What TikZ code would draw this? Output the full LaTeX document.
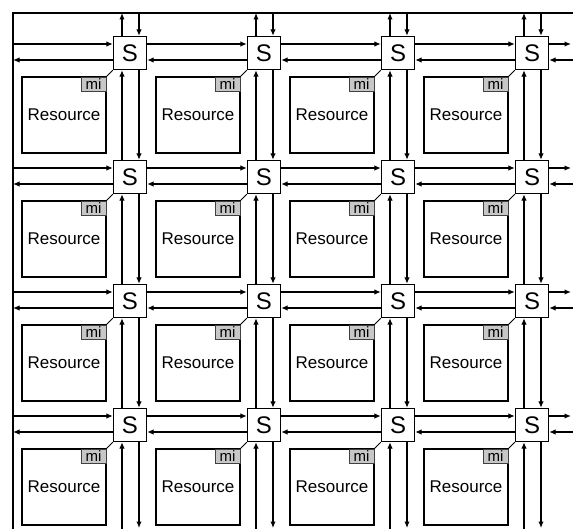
\documentclass[tikz,border=0pt]{standalone}
\usepackage{fontspec}
\setmainfont{Liberation Sans}
\usetikzlibrary{arrows.meta}
\begin{document}
\begin{tikzpicture}[x=1pt,y=-1pt,
  sw/.style={draw,line width=1.4pt,minimum size=33pt,inner sep=0pt,font=\fontsize{24}{24}\selectfont,fill=white},
  res/.style={draw,line width=1.1pt,minimum width=84pt,minimum height=76pt,inner sep=0pt,font=\fontsize{17}{17}\selectfont},
  mibox/.style={draw=black!75,fill=black!22,line width=0.8pt,minimum width=25pt,minimum height=14pt,inner sep=0pt,font=\fontsize{15}{15}\selectfont},
  link/.style={line width=1.2pt,-{Latex[length=6.5pt,width=5.5pt]}},
  wire/.style={line width=1.2pt},
]
\useasboundingbox (0,0) rectangle (573,529);
\coordinate (tr) at (573,13);
\coordinate (tl) at (13,13);
\coordinate (bl) at (13,529);
\draw[wire] (tr) -- (tl) -- (bl);

\foreach \i/\cy in {1/53,2/177,3/301,4/425} {
  \foreach \j/\cx in {1/130,2/264,3/398,4/532} {
    \node[sw] (s\i\j) at (\cx,\cy) {S};
    \node[res] (r\i\j) at (\cx-66,\cy+62) {Resource};
    \node[mibox] (m\i\j) at (\cx-36.5,\cy+31) {mi};
    \draw[wire,line width=0.8pt] (s\i\j.south west) -- (m\i\j.north east);
  }
  % left border
  \coordinate (lu\i) at (13,\cy-9);
  \coordinate (ll\i) at (13,\cy+7);
  \draw[link] (lu\i) -- ([yshift=9pt]s\i1.west);
  \draw[link] ([yshift=-7pt]s\i1.west) -- (ll\i);
  % right edge
  \coordinate (ru\i) at (571,\cy-9);
  \coordinate (rl\i) at (573,\cy+7);
  \draw[link] ([yshift=9pt]s\i4.east) -- (ru\i);
  \draw[link] (rl\i) -- ([yshift=-7pt]s\i4.east);
  % between switches
  \foreach \j/\k in {1/2,2/3,3/4} {
    \draw[link] ([yshift=9pt]s\i\j.east) -- ([yshift=9pt]s\i\k.west);
    \draw[link] ([yshift=-7pt]s\i\k.west) -- ([yshift=-7pt]s\i\j.east);
  }
}

\foreach \j/\cx in {1/130,2/264,3/398,4/532} {
  \coordinate (tu\j) at (\cx-8,13);
  \coordinate (td\j) at (\cx+9,13);
  \coordinate (bu\j) at (\cx-8,529);
  \coordinate (bd\j) at (\cx+9,528);
  \draw[link] ([xshift=-8pt]s1\j.north) -- (tu\j);
  \draw[link] (td\j) -- ([xshift=9pt]s1\j.north);
  \draw[link] (bu\j) -- ([xshift=-8pt]s4\j.south);
  \draw[link] ([xshift=9pt]s4\j.south) -- (bd\j);
  \foreach \i/\k in {1/2,2/3,3/4} {
    \draw[link] ([xshift=-8pt]s\k\j.north) -- ([xshift=-8pt]s\i\j.south);
    \draw[link] ([xshift=9pt]s\i\j.south) -- ([xshift=9pt]s\k\j.north);
  }
}
\end{tikzpicture}
\end{document}
